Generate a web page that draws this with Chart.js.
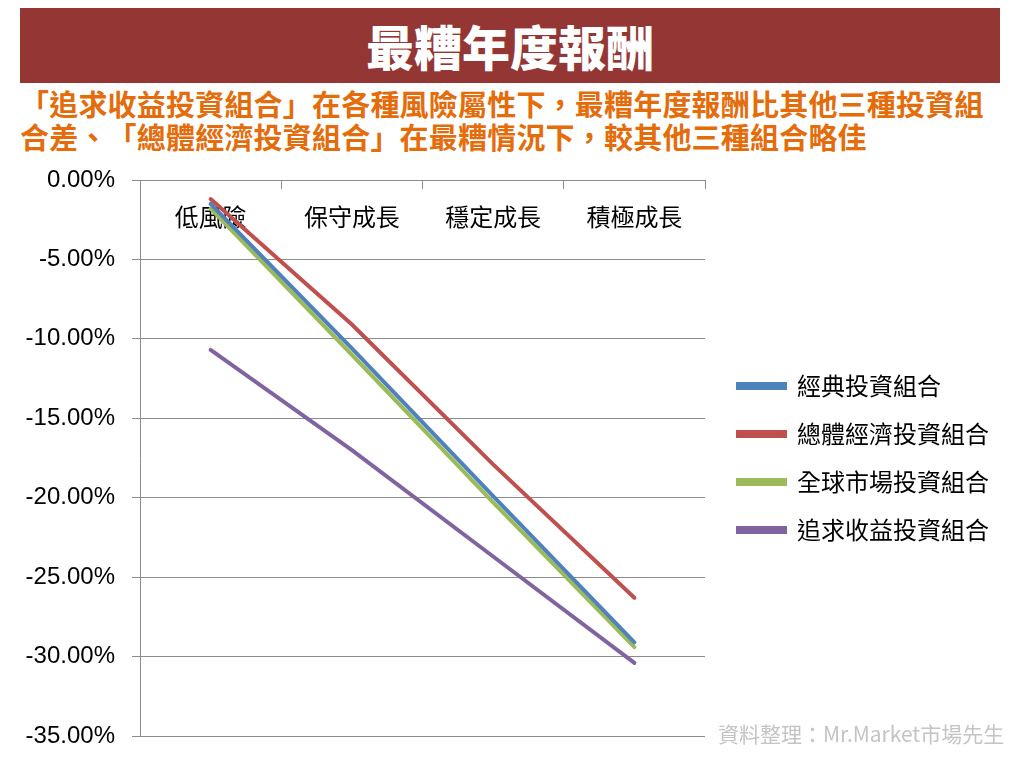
<!DOCTYPE html>
<html>
<head>
<meta charset="utf-8">
<script src="https://cdn.jsdelivr.net/npm/chart.js@4.4.0/dist/chart.umd.min.js"></script>
<style>
  body { margin: 0; width: 1028px; height: 764px; background: #fff; position: relative; overflow: hidden; font-family: "Noto Sans CJK TC", sans-serif; text-spacing-trim: space-all; }
  #banner { position: absolute; left: 20px; top: 8px; width: 980px; height: 75px; background: #943634; color: #fff; font-size: 48px; font-weight: 900; text-align: center; line-height: 75px; }
  #sub { position: absolute; left: 20px; top: 87px; color: #e46c0a; font-size: 29px; font-weight: 700; line-height: 33px; white-space: nowrap; letter-spacing: 0.2px; }
  #box { position: absolute; left: 0; top: 160px; width: 1028px; height: 604px; }
  #src { position: absolute; left: 718px; top: 718px; color: #c4c4c4; font-size: 21px; white-space: nowrap; }
</style>
</head>
<body>
<div id="banner">最糟年度報酬</div>
<div id="sub">「追求收益投資組合」在各種風險屬性下，最糟年度報酬比其他三種投資組<br>合差、「總體經濟投資組合」在最糟情況下，較其他三種組合略佳</div>
<div id="box"><canvas id="chart" width="1028" height="604"></canvas></div>
<div id="src">資料整理：Mr.Market市場先生</div>

<script>
// values, in percent
const categories = ["低風險", "保守成長", "穩定成長", "積極成長"];
const seriesNames = ["經典投資組合", "總體經濟投資組合", "全球市場投資組合", "追求收益投資組合"];
const classicValues = [-1.5, -10.6, -19.9, -29.1];
const macroValues = [-1.2, -9.1, -17.9, -26.3];
const globalValues = [-1.8, -11.0, -20.3, -29.4];
const incomeValues = [-10.7, -17.0, -23.7, -30.4];
const seriesColors = ["#4f81bd", "#c0504d", "#9bbb59", "#8064a2"];
const yMin = -35;
const yMax = 0;
const yStep = 5;

const allValues = [classicValues, macroValues, globalValues, incomeValues];
const gridColor = "#8c8c8c";
const cjkFont = "'Noto Sans CJK TC', sans-serif";

// the layout caps a side legend at a quarter of the width; let it run to the canvas edge
const widenLegend = {
  id: "widenLegend",
  afterLayout(chart) {
    const lg = chart.legend;
    if (!lg) return;
    lg.left = 714;
    lg.right = chart.width;
    lg.width = lg.right - lg.left;
  },
};

function drawChart() {
  const ctx = document.getElementById("chart").getContext("2d");
  new Chart(ctx, {
    type: "line",
    data: {
      labels: categories,
      datasets: allValues.map((vals, i) => ({
        label: seriesNames[i],
        data: vals,
        borderColor: seriesColors[i],
        backgroundColor: seriesColors[i],
        borderWidth: 4,
        borderCapStyle: "round",
        pointRadius: 0,
        tension: 0,
      })),
    },
    options: {
      responsive: false,
      animation: false,
      layout: { padding: { top: 20, bottom: 28, left: 0, right: 88 } },
      scales: {
        x: {
          position: { y: 0 },
          offset: true,
          grid: { offset: true, drawOnChartArea: false, drawTicks: true, tickLength: 8, color: gridColor },
          border: { color: gridColor },
          ticks: { color: "#000", padding: 14, font: { size: 24, family: cjkFont } },
          afterFit: (scale) => { scale.paddingLeft = 0; scale.paddingRight = 0; },
        },
        y: {
          min: yMin,
          max: yMax,
          grid: { color: gridColor, tickLength: 8 },
          border: { color: gridColor },
          ticks: {
            stepSize: yStep,
            color: "#000",
            padding: 17,
            font: { size: 24, family: "'Liberation Sans', Arial, sans-serif" },
            callback: (v) => v.toFixed(2) + "%",
          },
          afterFit: (scale) => {
            scale.width = 140;
            scale.paddingTop = 0;
            scale.paddingBottom = 0;
          },
        },
      },
      plugins: {
        legend: {
          position: "right",
          labels: { boxWidth: 47, boxHeight: 4, padding: 24, color: "#000", font: { size: 24, family: cjkFont } },
        },
        tooltip: { enabled: false },
      },
    },
    plugins: [widenLegend],
  });
}

document.fonts.load("24px 'Noto Sans CJK TC'", "經典投資組合").then(drawChart, drawChart);
</script>
</body>
</html>
